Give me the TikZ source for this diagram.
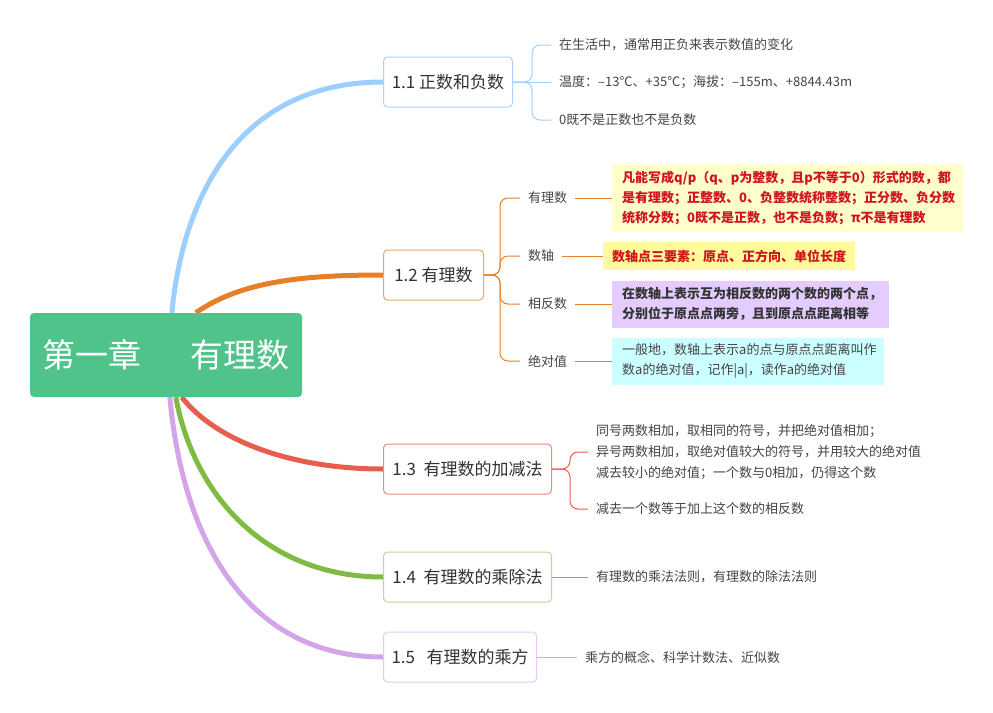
\documentclass[tikz,border=0pt]{standalone}
\usepackage{fontspec}
\setmainfont{Noto Sans CJK SC}
\usetikzlibrary{backgrounds}
\definecolor{rootgreen}{HTML}{50C38B}
\definecolor{cblue}{HTML}{9CCEFF}
\definecolor{cblueL}{HTML}{A9D4FF}
\definecolor{corange}{HTML}{E77F27}
\definecolor{corangeL}{HTML}{F0A465}
\definecolor{cred}{HTML}{E85D4E}
\definecolor{credL}{HTML}{F08A7E}
\definecolor{cgreen}{HTML}{7FBA42}
\definecolor{cgreenL}{HTML}{B6DC90}
\definecolor{cpurple}{HTML}{D3A4E8}
\definecolor{cpurpleL}{HTML}{E6C9F3}
\definecolor{txt}{HTML}{333333}
\definecolor{leaftxt}{HTML}{444444}
\definecolor{redtxt}{HTML}{D0141E}
\definecolor{paleyellow}{HTML}{FFFFCC}
\definecolor{yellowbox}{HTML}{FFFA9C}
\definecolor{purplebox}{HTML}{E5CCFF}
\definecolor{cyanbox}{HTML}{CCFFFF}
\begin{document}
\begin{tikzpicture}[x=1pt,y=-1pt,
  rootbox/.style={fill=rootgreen, rounded corners=4pt, minimum width=272pt, minimum height=84pt, text=white, font=\fontsize{33}{40}\selectfont, inner sep=0pt},
  titlebox/.style={draw, rounded corners=4pt, line width=1pt, fill=white, minimum height=50pt, inner xsep=8pt, font=\fontsize{17}{20}\selectfont, text=txt, anchor=west},
  leaf/.style={anchor=west, inner xsep=8pt, inner ysep=2pt, font=\fontsize{13}{21}\selectfont, text=leaftxt, align=left},
  notebox/.style={anchor=west, inner xsep=10pt, inner ysep=3pt, font=\fontsize{13}{20}\selectfont, align=left},
  mainline/.style={line width=5pt},
  thinline/.style={line width=1pt},
  brace/.style={line width=1pt, rounded corners=8pt}
]
\useasboundingbox (0,0) rectangle (993,712);

% root
\node[rootbox] (root) at (166,355) {第一章\hspace{50pt}有理数};

% title boxes
\node[titlebox, draw=cblueL, minimum width=129pt] (b11) at (383,82) {1.1 正数和负数};
\node[titlebox, draw=corangeL, minimum width=100pt] (b12) at (383,275) {1.2 有理数};
\node[titlebox, draw=credL, minimum width=168pt] (b13) at (383,469) {1.3\ \ 有理数的加减法};
\node[titlebox, draw=cgreenL, minimum width=168pt] (b14) at (383,577) {1.4\ \ 有理数的乘除法};
\node[titlebox, draw=cpurpleL, minimum width=143pt] (b15) at (383,657) {1.5\ \ \ 有理数的乘方};

% main curves
\begin{scope}[on background layer]
\draw[mainline, cblue] ([xshift=142pt]root.north west) .. controls (185,180) and (250,82) .. (b11.west);
\draw[mainline, corange] ([xshift=166pt]root.north west) .. controls (240,282) and (300,275) .. (b12.west);
\draw[mainline, cred] ([xshift=152pt]root.south west) .. controls (215,440) and (290,469) .. (b13.west);
\draw[mainline, cgreen] ([xshift=146pt]root.south west) .. controls (195,500) and (270,577) .. (b14.west);
\draw[mainline, cpurple] ([xshift=140pt]root.south west) .. controls (185,560) and (260,657) .. (b15.west);
\end{scope}

% 1.1 leaves
\node[leaf] (l11a) at (551,45) {在生活中，通常用正负来表示数值的变化};
\node[leaf] (l11b) at (551,82) {温度：–13℃、+35℃；海拔：–155m、+8844.43m};
\node[leaf] (l11c) at (551,120) {0既不是正数也不是负数};
\coordinate (j11) at (532,82);
\draw[brace, cblue] (b11.east) -- (j11) |- (l11a.west);
\draw[thinline, cblue] (b11.east) -- (l11b.west);
\draw[brace, cblue] (b11.east) -- (j11) |- (l11c.west);

% 1.2 labels
\node[leaf] (lab1) at (520,198) {有理数};
\node[leaf] (lab2) at (520,256) {数轴};
\node[leaf] (lab3) at (520,304) {相反数};
\node[leaf] (lab4) at (520,361) {绝对值};
\coordinate (j12) at (500,275);
\foreach \n in {lab1,lab2,lab3,lab4}
  \draw[brace, corange] (b12.east) -- (j12) |- (\n.west);

% 1.2 note boxes
\node[notebox, fill=paleyellow, text=redtxt, font=\fontsize{13}{20}\selectfont\bfseries, text width=331pt, minimum height=68pt] (n1) at (612,198)
  {凡能写成q/p（q、p为整数，且p不等于0）形式的数，都\\是有理数；正整数、0、负整数统称整数；正分数、负分数\\统称分数；0既不是正数，也不是负数；π不是有理数};
\node[notebox, fill=yellowbox, text=redtxt, font=\fontsize{13}{20}\selectfont\bfseries, inner xsep=9pt, minimum width=252pt, minimum height=28pt] (n2) at (603,256)
  {数轴点三要素：原点、正方向、单位长度};
\node[notebox, fill=purplebox, text=txt, font=\fontsize{13}{20}\selectfont\bfseries, text width=257pt, minimum height=47pt] (n3) at (612,304)
  {在数轴上表示互为相反数的两个数的两个点，\\分别位于原点点两旁，且到原点点距离相等};
\node[notebox, fill=cyanbox, text=leaftxt, text width=252pt, minimum height=47pt] (n4) at (612,361)
  {一般地，数轴上表示a的点与原点点距离叫作\\数a的绝对值，记作|a|，读作a的绝对值};
\draw[thinline, corange] (lab1.east) -- (n1.west);
\draw[thinline, corange] (lab2.east) -- (n2.west);
\draw[thinline, corange] (lab3.east) -- (n3.west);
\draw[thinline, corange] (lab4.east) -- (n4.west);

% 1.3 leaves
\node[leaf] (l13a) at (588,452) {同号两数相加，取相同的符号，并把绝对值相加；\\异号两数相加，取绝对值较大的符号，并用较大的绝对值\\减去较小的绝对值；一个数与0相加，仍得这个数};
\node[leaf] (l13b) at (588,509) {减去一个数等于加上这个数的相反数};
\coordinate (j13) at (570,469);
\draw[brace, cred] (b13.east) -- (j13) |- (l13a.west);
\draw[brace, cred] (b13.east) -- (j13) |- (l13b.west);

% 1.4 leaf
\node[leaf] (l14) at (588,577) {有理数的乘法法则，有理数的除法法则};
\draw[thinline, cgreen] (b14.east) -- (l14.west);

% 1.5 leaf
\node[leaf] (l15) at (577,657) {乘方的概念、科学计数法、近似数};
\draw[thinline, cpurple] (b15.east) -- (l15.west);
\end{tikzpicture}
\end{document}
